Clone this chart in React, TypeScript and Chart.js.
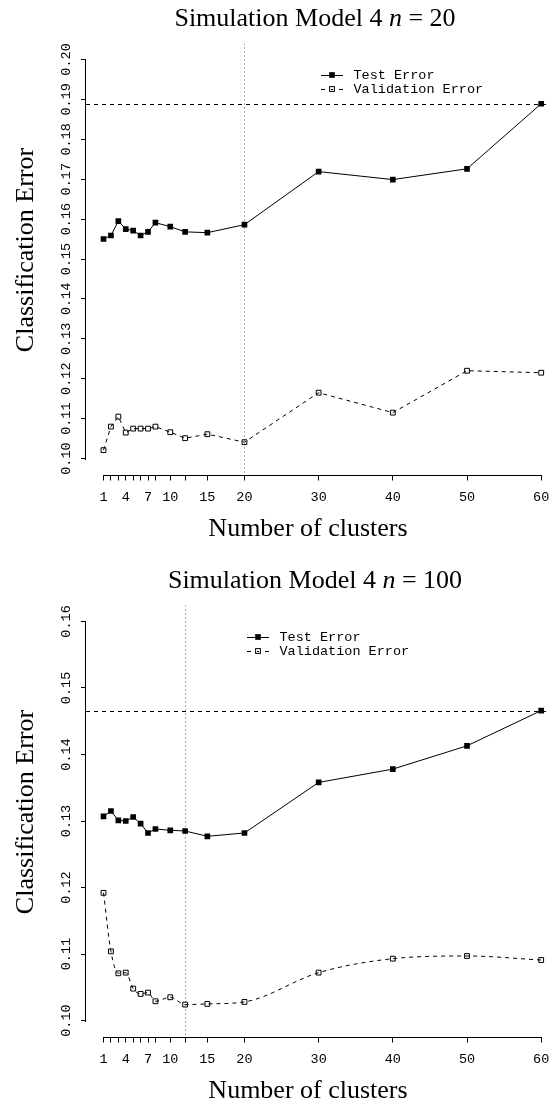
import React, { useEffect, useRef } from "react";
import { Chart, registerables } from "chart.js";

Chart.register(...registerables);

// ---------------- data ----------------
const clusters = [1, 2, 3, 4, 5, 6, 7, 8, 10, 12, 15, 20, 30, 40, 50, 60];
const xTicks = [1, 2, 3, 4, 5, 6, 7, 8, 10, 12, 15, 20, 30, 40, 50, 60];
const xTickLabels = ["1", "", "", "4", "", "", "7", "", "10", "", "15", "20", "30", "40", "50", "60"];

const testErrorN20 = [0.155, 0.1559, 0.1595, 0.1575, 0.1571, 0.1559, 0.1568, 0.1591, 0.1581, 0.1568, 0.1566, 0.1586, 0.1719, 0.1699, 0.1726, 0.1889];
const validErrorN20 = [0.1021, 0.108, 0.1105, 0.1065, 0.1075, 0.1075, 0.1075, 0.108, 0.1066, 0.1051, 0.1061, 0.1041, 0.1165, 0.1115, 0.122, 0.1215];
const yTicksN20 = [0.1, 0.11, 0.12, 0.13, 0.14, 0.15, 0.16, 0.17, 0.18, 0.19, 0.2];
const refLineN20 = 0.1888;
const chosenClustersN20 = 20;

const testErrorN100 = [0.1307, 0.1315, 0.1301, 0.13, 0.1306, 0.1296, 0.1282, 0.1288, 0.1286, 0.1285, 0.1277, 0.1282, 0.1358, 0.1378, 0.1413, 0.1466];
const validErrorN100 = [0.1192, 0.1104, 0.1071, 0.1072, 0.1048, 0.104, 0.1042, 0.1029, 0.1035, 0.1024, 0.1025, 0.1028, 0.1072, 0.1093, 0.1097, 0.1091];
const yTicksN100 = [0.1, 0.11, 0.12, 0.13, 0.14, 0.15, 0.16];
const refLineN100 = 0.1466;
const chosenClustersN100 = 12;

const legendLabels = ["Test Error", "Validation Error"];

// ---------------- styling ----------------
const SERIF = '"Liberation Serif", "DejaVu Serif", serif';
const MONO = '"Liberation Mono", "DejaVu Sans Mono", monospace';
const PANEL_H = 562;
const CANVAS_W = 570;

type PanelProps = {
  top: number;
  nLabel: string;
  test: number[];
  valid: number[];
  yTicks: number[];
  refY: number;
  vLineX: number;
  legendX: number;
  smoothValid: boolean;
};

function Panel(props: PanelProps) {
  const ref = useRef<HTMLCanvasElement | null>(null);

  useEffect(() => {
    const canvas = ref.current;
    if (!canvas) return;
    const { nLabel, test, valid, yTicks, refY, vLineX, legendX, smoothValid } = props;
    const yLo = yTicks[0];
    const yHi = yTicks[yTicks.length - 1];
    const yPad = (yHi - yLo) * 0.04;
    const xLo = xTicks[0];
    const xHi = xTicks[xTicks.length - 1];
    const xPad = (xHi - xLo) * 0.04;

    const rPlot = {
      id: "rPlot",
      beforeDatasetsDraw(chart: any) {
        const { ctx, chartArea: a } = chart;
        const xs = chart.scales.x;
        const ys = chart.scales.y;
        ctx.save();
        ctx.beginPath();
        ctx.rect(a.left, a.top, a.right - a.left, a.bottom - a.top);
        ctx.clip();
        ctx.lineWidth = 1;
        ctx.strokeStyle = "#000";
        ctx.setLineDash([4, 4]);
        const hy = Math.round(ys.getPixelForValue(refY)) + 0.5;
        ctx.beginPath();
        ctx.moveTo(a.left, hy);
        ctx.lineTo(a.right, hy);
        ctx.stroke();
        ctx.strokeStyle = "#555";
        ctx.setLineDash([1, 3]);
        const vx = Math.round(xs.getPixelForValue(vLineX)) + 0.5;
        ctx.beginPath();
        ctx.moveTo(vx, a.top);
        ctx.lineTo(vx, a.bottom);
        ctx.stroke();
        ctx.restore();
      },
      afterDraw(chart: any) {
        const { ctx, chartArea: a } = chart;
        const xs = chart.scales.x;
        const ys = chart.scales.y;
        ctx.save();
        ctx.fillStyle = "#000";
        ctx.strokeStyle = "#000";
        ctx.lineWidth = 1;
        ctx.setLineDash([]);

        // axis lines (R style: from first to last tick)
        const yb = Math.round(a.bottom) + 0.5;
        ctx.beginPath();
        ctx.moveTo(Math.round(xs.getPixelForValue(xTicks[0])), yb);
        ctx.lineTo(Math.round(xs.getPixelForValue(xTicks[xTicks.length - 1])) + 1, yb);
        ctx.stroke();
        const xl = Math.round(a.left) - 0.5;
        ctx.beginPath();
        ctx.moveTo(xl, Math.round(ys.getPixelForValue(yTicks[0])) + 1);
        ctx.lineTo(xl, Math.round(ys.getPixelForValue(yTicks[yTicks.length - 1])));
        ctx.stroke();

        // x tick labels
        ctx.font = `13.5px ${MONO}`;
        ctx.textAlign = "center";
        ctx.textBaseline = "alphabetic";
        xs.ticks.forEach((t: any, i: number) => {
          const lab = xTickLabels[xTicks.indexOf(t.value)] ?? "";
          if (lab) ctx.fillText(lab, xs.getPixelForValue(t.value), 501);
        });

        // y tick labels (rotated, parallel to axis)
        ys.ticks.forEach((t: any) => {
          ctx.save();
          ctx.translate(69.5, ys.getPixelForValue(t.value));
          ctx.rotate(-Math.PI / 2);
          ctx.textAlign = "center";
          ctx.fillText(t.value.toFixed(2), 0, 0);
          ctx.restore();
        });

        // axis titles
        ctx.font = `26px ${SERIF}`;
        ctx.textAlign = "center";
        ctx.fillText("Number of clusters", 308, 536);
        ctx.save();
        ctx.translate(33, 250);
        ctx.rotate(-Math.PI / 2);
        ctx.fillText("Classification Error", 0, 0);
        ctx.restore();

        // title with italic n
        const parts = [
          { t: "Simulation Model 4 ", f: `26px ${SERIF}` },
          { t: "n", f: `italic 26px ${SERIF}` },
          { t: " = ", f: `26px ${SERIF}` },
          { t: nLabel, f: `26px ${SERIF}` },
        ];
        let total = 0;
        parts.forEach((p) => {
          ctx.font = p.f;
          total += ctx.measureText(p.t).width;
        });
        let tx = 315 - total / 2;
        ctx.textAlign = "left";
        parts.forEach((p) => {
          ctx.font = p.f;
          ctx.fillText(p.t, tx, 26);
          tx += ctx.measureText(p.t).width;
        });

        // legend
        const rows = [74.5, 88.5];
        const symW = 22;
        ctx.font = `13.5px ${MONO}`;
        ctx.textBaseline = "middle";
        // test error: solid line + filled square
        let ly = Math.round(rows[0]) + 0.5;
        ctx.beginPath();
        ctx.moveTo(legendX, ly);
        ctx.lineTo(legendX + symW, ly);
        ctx.stroke();
        const s1 = 5.66;
        ctx.fillRect(legendX + symW / 2 - s1 / 2, rows[0] - s1 / 2 + 0.5, s1, s1);
        ctx.fillText(legendLabels[0], legendX + symW + 10.5, rows[0] + 0.5);
        // validation error: dashed bits + open square
        ly = Math.round(rows[1]) + 0.5;
        ctx.beginPath();
        ctx.moveTo(legendX, ly);
        ctx.lineTo(legendX + 4, ly);
        ctx.moveTo(legendX + symW - 4, ly);
        ctx.lineTo(legendX + symW, ly);
        ctx.moveTo(legendX + symW / 2 - 1, ly);
        ctx.lineTo(legendX + symW / 2 + 1, ly);
        ctx.stroke();
        const s2 = 4.8;
        ctx.strokeRect(legendX + symW / 2 - s2 / 2, rows[1] - s2 / 2 + 0.5, s2, s2);
        ctx.fillText(legendLabels[1], legendX + symW + 10.5, rows[1] + 0.5);

        ctx.restore();
      },
    };

    const chart = new Chart(canvas, {
      type: "line",
      data: {
        datasets: [
          {
            label: legendLabels[0],
            data: clusters.map((c, i) => ({ x: c, y: test[i] })),
            borderColor: "#000",
            borderWidth: 1,
            pointStyle: "rect",
            pointRadius: 4,
            pointBackgroundColor: "#000",
            pointBorderColor: "#000",
            pointBorderWidth: 0,
            tension: 0,
            fill: false,
          },
          {
            label: legendLabels[1],
            data: clusters.map((c, i) => ({ x: c, y: valid[i] })),
            borderColor: "#000",
            borderWidth: 1,
            borderDash: [4, 4],
            pointStyle: "rect",
            pointRadius: 3.4,
            pointBackgroundColor: "rgba(0,0,0,0)",
            pointBorderColor: "#000",
            pointBorderWidth: 1,
            tension: 0,
            cubicInterpolationMode: smoothValid ? "monotone" : "default",
            fill: false,
          },
        ],
      },
      options: {
        animation: false,
        responsive: false,
        maintainAspectRatio: false,
        devicePixelRatio: 1,
        events: [],
        layout: { padding: { top: 43.5, left: 0, right: CANVAS_W - 558.7, bottom: 0 } },
        plugins: {
          legend: { display: false },
          title: { display: false },
          tooltip: { enabled: false },
        },
        scales: {
          x: {
            type: "linear",
            min: xLo - xPad,
            max: xHi + xPad,
            afterBuildTicks: (s: any) => {
              s.ticks = xTicks.map((v) => ({ value: v }));
            },
            afterFit: (s: any) => {
              s.height = PANEL_H - 474.5;
              s.paddingLeft = 0;
              s.paddingRight = 0;
              s.paddingTop = 0;
              s.paddingBottom = 0;
            },
            ticks: { display: false },
            border: { display: false },
            grid: {
              display: true,
              drawOnChartArea: false,
              drawTicks: true,
              tickLength: 6,
              color: "#000",
              lineWidth: 1,
            },
          },
          y: {
            type: "linear",
            min: yLo - yPad,
            max: yHi + yPad,
            afterBuildTicks: (s: any) => {
              s.ticks = yTicks.map((v) => ({ value: v }));
            },
            afterFit: (s: any) => {
              s.width = 86;
              s.paddingLeft = 0;
              s.paddingRight = 0;
              s.paddingTop = 0;
              s.paddingBottom = 0;
            },
            ticks: { display: false },
            border: { display: false },
            grid: {
              display: true,
              drawOnChartArea: false,
              drawTicks: true,
              tickLength: 5,
              color: "#000",
              lineWidth: 1,
            },
          },
        },
      } as any,
      plugins: [rPlot as any],
    });

    return () => chart.destroy();
  }, []);

  return (
    <canvas
      ref={ref}
      width={CANVAS_W}
      height={PANEL_H}
      style={{ position: "absolute", left: 0, top: props.top, width: CANVAS_W, height: PANEL_H, display: "block" }}
    />
  );
}

export default function App() {
  return (
    <div
      style={{
        position: "absolute",
        left: 0,
        top: 0,
        width: 550,
        height: 1103,
        overflow: "hidden",
        background: "#fff",
      }}
    >
      <Panel
        top={0}
        nLabel="20"
        test={testErrorN20}
        valid={validErrorN20}
        yTicks={yTicksN20}
        refY={refLineN20}
        vLineX={chosenClustersN20}
        legendX={321}
        smoothValid={false}
      />
      <Panel
        top={PANEL_H}
        nLabel="100"
        test={testErrorN100}
        valid={validErrorN100}
        yTicks={yTicksN100}
        refY={refLineN100}
        vLineX={chosenClustersN100}
        legendX={247}
        smoothValid={true}
      />
    </div>
  );
}
